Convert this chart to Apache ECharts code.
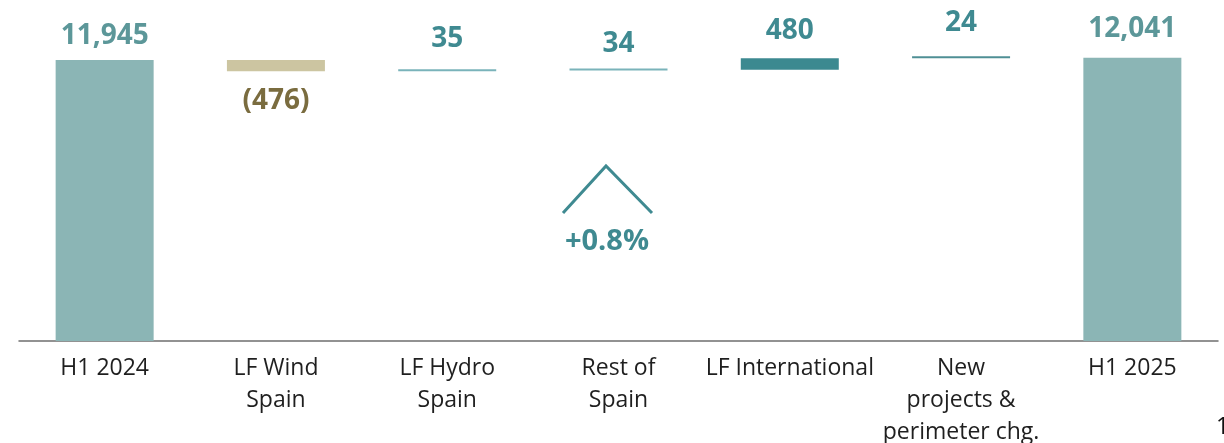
<!DOCTYPE html>
<html>
<head>
<meta charset="utf-8">
<script src="https://cdn.jsdelivr.net/npm/echarts@6/dist/echarts.min.js"></script>
<style>
  html, body { margin: 0; padding: 0; background: #fff; }
  #chart { width: 1224px; height: 443px; }
</style>
</head>
<body>
<div id="chart"></div>
<script>
const categories = ['H1 2024', 'LF Wind\nSpain', 'LF Hydro\nSpain', 'Rest of\nSpain', 'LF International', 'New\nprojects &\nperimeter chg.', 'H1 2025']
const deltas = [11945, -476, 35, 34, 480, 24, 12041]
const valueLabels = ['11,945', '(476)', '35', '34', '480', '24', '12,041']
// first and last are totals drawn from zero
const isTotal = [true, false, false, false, false, false, true]
const barColors = ['#8bb5b5', '#ccc5a1', '#7ab3ba', '#7ab3ba', '#3c8990', '#4f8f95', '#8bb5b5']
const labelColors = ['#5c9799', '#7a6c3f', '#3f8a91', '#3f8a91', '#3f8a91', '#3f8a91', '#5c9799']
const labelGaps = [10, 16, 16, 10, 13, 19, 15]
const growthText = '+0.8%'

// running sum for the invisible base
let running = 0
const baseData = []
const barData = []
deltas.forEach((d, i) => {
	if (isTotal[i]) {
		baseData.push(0)
		barData.push(d)
		running = d
	} else if (d < 0) {
		running += d
		baseData.push(running)
		barData.push(-d)
	} else {
		baseData.push(running)
		barData.push(d)
		running += d
	}
})

const chart = echarts.init(document.getElementById('chart'), null, { renderer: 'canvas' })

const option = {
	animation: false,
	backgroundColor: '#ffffff',
	grid: { left: 19, right: 6, top: 47, bottom: 102, outerBoundsMode: 'none', containLabel: false },
	xAxis: {
		type: 'category',
		data: categories,
		axisLine: { lineStyle: { color: '#6f6f6f', width: 1.5 } },
		axisTick: { show: false },
		axisLabel: {
			interval: 0,
			color: '#1f1f1f',
			fontFamily: 'Open Sans',
			fontSize: 23,
			lineHeight: 32,
			margin: 11,
		},
	},
	yAxis: {
		type: 'value',
		min: 0,
		max: 12500,
		show: false,
		splitLine: { show: false },
	},
	series: [
		{
			name: 'base',
			type: 'bar',
			stack: 'wf',
			barWidth: 98,
			silent: true,
			itemStyle: { color: 'transparent' },
			data: baseData,
		},
		{
			name: 'value',
			type: 'bar',
			stack: 'wf',
			barWidth: 98,
			barMinHeight: 2,
			data: barData.map((v, i) => ({
				value: v,
				itemStyle: { color: barColors[i] },
				label: {
					show: true,
					position: deltas[i] < 0 ? 'bottom' : 'top',
					distance: labelGaps[i],
					formatter: valueLabels[i],
					color: labelColors[i],
					fontFamily: 'Open Sans',
					fontWeight: 'bold',
					fontSize: 28,
					lineHeight: 28,
				},
			})),
		},
	],
	graphic: [
		{
			type: 'polyline',
			shape: { points: [[563, 213], [606, 166], [652, 213]] },
			style: { stroke: '#3f8a91', lineWidth: 3, fill: null },
		},
		{
			type: 'text',
			x: 607,
			y: 242,
			style: {
				text: growthText,
				fill: '#3f8a91',
				font: 'bold 29px "Open Sans"',
				align: 'center',
				verticalAlign: 'middle',
			},
		},
		{
			type: 'text',
			x: 1216,
			y: 427,
			style: {
				text: '1',
				fill: '#111111',
				font: '23px "Open Sans"',
				align: 'left',
				verticalAlign: 'middle',
			},
		},
	],
}

chart.setOption(option)
</script>
</body>
</html>
